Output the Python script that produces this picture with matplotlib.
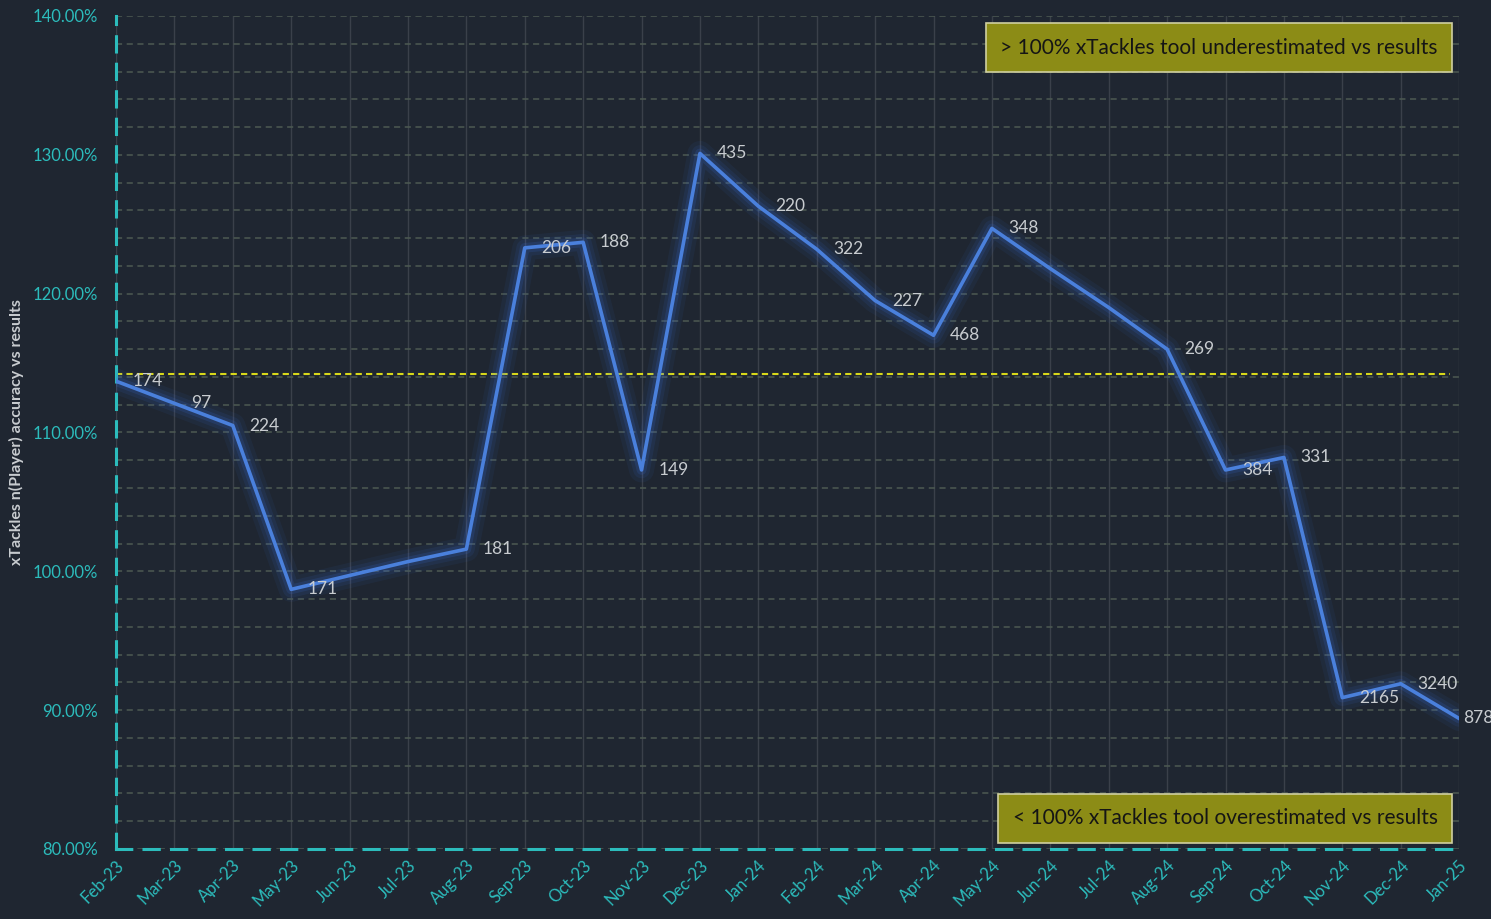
import numpy as np
import matplotlib
matplotlib.use('Agg')
import matplotlib.pyplot as plt
from matplotlib.ticker import MultipleLocator, FuncFormatter

months = ['Feb-23', 'Mar-23', 'Apr-23', 'May-23', 'Jun-23', 'Jul-23', 'Aug-23',
          'Sep-23', 'Oct-23', 'Nov-23', 'Dec-23', 'Jan-24', 'Feb-24', 'Mar-24',
          'Apr-24', 'May-24', 'Jun-24', 'Jul-24', 'Aug-24', 'Sep-24', 'Oct-24',
          'Nov-24', 'Dec-24', 'Jan-25']
accuracy = [113.7, 112.1, 110.5, 98.7, 99.7, 100.7, 101.6,
            123.3, 123.7, 107.3, 130.1, 126.3, 123.2, 119.5,
            117.0, 124.7, 121.8, 119.0, 116.0, 107.3, 108.2,
            90.9, 91.9, 89.4]
counts = ['174', '97', '224', '171', '', '', '181',
          '206', '188', '149', '435', '220', '322', '227',
          '468', '348', '', '', '269', '384', '331',
          '2165', '3240', '878']
avg_line = 114.2

bg = '#1f2631'
cyan = '#2cbcbc'
plt.rcParams['font.family'] = ['Lato', 'DejaVu Sans']

fig = plt.figure(figsize=(14.91, 9.19), dpi=100)
fig.patch.set_facecolor(bg)
ax = fig.add_axes([0.0778, 0.0762, 0.9008, 0.9064])
ax.set_facecolor(bg)

x = np.arange(len(months))

# glow
for lw, a in [(18, 0.07), (12, 0.10), (7, 0.16)]:
    ax.plot(x, accuracy, color='#3a6fd8', lw=lw, alpha=a, solid_capstyle='round',
            solid_joinstyle='round', zorder=3)
ax.plot(x, accuracy, color='#4a80dc', lw=2.6, zorder=4)

ax.axhline(avg_line, xmin=0, xmax=0.993, color='#d8d81a', lw=1.5, ls=(0, (3, 2)), zorder=2)

for i, (xi, yi, c) in enumerate(zip(x, accuracy, counts)):
    if c:
        off = 3 if i == len(x) - 1 else 12
        ax.annotate(c, (xi, yi), xytext=(off, 0), textcoords='offset points',
                    ha='left', va='center', color='#c8ccd0', fontsize=12.5,
                    zorder=5, annotation_clip=False)

ax.set_xlim(0, len(months) - 1)
ax.set_ylim(80, 140)
ax.yaxis.set_major_locator(MultipleLocator(10))
ax.yaxis.set_minor_locator(MultipleLocator(2))
ax.yaxis.set_major_formatter(FuncFormatter(lambda v, p: f'{v:.2f}%'))
ax.set_xticks(x)
ax.set_xticklabels(months, rotation=45, ha='right', rotation_mode='anchor')

ax.grid(axis='y', which='both', color='#4d5a52', ls=(0, (4, 3)), lw=1.1)
ax.grid(axis='x', which='major', color='#3a404a', ls='-', lw=1)
ax.set_axisbelow(True)

ax.tick_params(axis='both', which='both', length=0, colors=cyan, labelsize=12)
ax.tick_params(axis='y', pad=13)
ax.tick_params(axis='x', pad=6)

for s in ['top', 'right']:
    ax.spines[s].set_visible(False)
for s in ['left', 'bottom']:
    ax.spines[s].set_color(cyan)
    ax.spines[s].set_linewidth(2.2)
    ax.spines[s].set_linestyle((0, (5, 4)))

ax.set_ylabel('xTackles n(Player) accuracy vs results', color='#c8ccd0',
              fontsize=11.5, fontweight='bold', labelpad=6)

box = dict(boxstyle='square,pad=0.7', fc='#8c8c16', ec='#d0d0a0', lw=1.2)
ax.text(0.984, 0.962, '> 100% xTackles tool underestimated vs results',
        transform=ax.transAxes, ha='right', va='center', fontsize=15,
        color='#151515', bbox=box, zorder=6)
ax.text(0.984, 0.037, '< 100% xTackles tool overestimated vs results',
        transform=ax.transAxes, ha='right', va='center', fontsize=15,
        color='#151515', bbox=box, zorder=6)

fig.savefig('out.png', dpi=100, facecolor=bg)
